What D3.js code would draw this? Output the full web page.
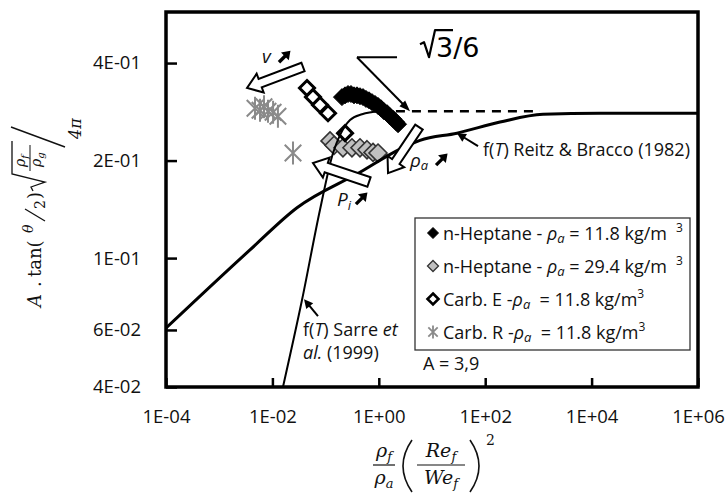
<!DOCTYPE html>
<html>
<head>
<meta charset="utf-8">
<script src="https://cdn.jsdelivr.net/npm/d3@7"></script>
<style>
  body { margin: 0; background: #fff; }
  svg { display: block; }
  text { white-space: pre; }
</style>
</head>
<body>
<svg id="chart" width="726" height="493"></svg>
<script>
// ---- axis ticks ----
const xTickValues = [1e-4, 1e-2, 1, 1e2, 1e4, 1e6];
const yTickValues = [0.04, 0.06, 0.1, 0.2, 0.4];

// ---- measurements: x = (rho_f/rho_a)(Re_f/We_f)^2, y = A tan(theta/2) sqrt(rho_f/rho_g) / 4pi ----
// n-Heptane, rho_a = 11.8 kg/m3
const hepLowX = [0.203, 0.232, 0.264, 0.300, 0.342, 0.389, 0.443, 0.505, 0.574, 0.654,
                 0.745, 0.849, 0.966, 1.10, 1.25, 1.43, 1.62, 1.85, 2.11, 2.30];
const hepLowY = [0.314, 0.318, 0.321, 0.321, 0.318, 0.318, 0.316, 0.314, 0.310, 0.307,
                 0.303, 0.299, 0.295, 0.290, 0.284, 0.280, 0.274, 0.269, 0.263, 0.259];
// n-Heptane, rho_a = 29.4 kg/m3
const hepHighX = [0.121, 0.144, 0.212, 0.313, 0.443, 0.600, 0.778, 0.966];
const hepHighY = [0.230, 0.223, 0.219, 0.219, 0.219, 0.216, 0.212, 0.211];
// Carb. E, rho_a = 11.8 kg/m3
const carbEX = [0.0447, 0.0579, 0.0785, 0.111, 0.232];
const carbEY = [0.335, 0.314, 0.297, 0.280, 0.243];
// Carb. R, rho_a = 11.8 kg/m3
const carbRX = [0.00471, 0.00585, 0.00695, 0.00826, 0.0103, 0.0127, 0.0244];
const carbRY = [0.290, 0.286, 0.293, 0.284, 0.282, 0.274, 0.211];

// ---- correlations f(T) ----
const reitzX = [1e-4, 0.00379, 0.0290, 0.443, 2.50, 5.95, 29.5, 190, 1220, 14400, 1e6];
const reitzY = [0.0608, 0.106, 0.143, 0.184, 0.217, 0.231, 0.243, 0.263, 0.278, 0.280, 0.280];
const sarreX = [0.0158, 0.0360, 0.0785, 0.138, 0.187, 0.288, 0.483, 1.05, 1070];
const sarreY = [0.040, 0.0742, 0.141, 0.211, 0.240, 0.267, 0.278, 0.284, 0.284];
const sarreDashFrom = 1.05;   // beyond this the plateau is drawn dashed

// ---- annotation anchors, in data units ----
const rootNote = { start: [2.20, 0.417], corner: [0.389, 0.417], tip: [3.86, 0.284], text: [5.95, 0.417] };
const vArrow = { tail: [0.0376, 0.389], tip: [0.00334, 0.335], label: [0.00638, 0.400], mark: [0.0165, 0.417] };
const rhoArrow = { tail: [5.70, 0.2537], tip: [1.49, 0.1829], label: [3.86, 0.191], mark: [14.8, 0.2007] };
const piArrow = { tail: [0.654, 0.1717], tip: [0.0579, 0.1964], label: [0.1637, 0.1447], mark: [0.462, 0.1521] };
const reitzNote = { tail: [73.3, 0.2216], tip: [29.5, 0.2430], text: [91, 0.2064] };
const sarreNote = { tail: [0.0719, 0.0662], tip: [0.0393, 0.0747], line1: [0.0376, 0.0574], line2: [0.0376, 0.0488] };

const FONT = "'Open Sans', 'DejaVu Sans', sans-serif";
const SERIF = "'DejaVu Serif', 'Liberation Serif', serif";

const svg = d3.select('#chart');
svg.append('rect').attr('width', 726).attr('height', 493).attr('fill', '#fff');

const plotL = 166, plotR = 698, plotT = 12, plotB = 387;
const x = d3.scaleLog().domain([1e-4, 1e6]).range([plotL, plotR]);
const y = d3.scaleLog().domain([0.04, 0.575]).range([plotB, plotT]);
const P = d => [x(d[0]), y(d[1])];

svg.append('clipPath').attr('id', 'plot-clip')
  .append('rect').attr('x', plotL).attr('y', plotT).attr('width', plotR - plotL).attr('height', plotB - plotT);

// ---- axes ----
function sci(d) {
  const e = Math.floor(Math.log10(d) + 1e-9);
  const m = Math.round(d / Math.pow(10, e));
  return m + 'E' + (e < 0 ? '-' : '+') + String(Math.abs(e)).padStart(2, '0');
}
const gx = svg.append('g').attr('transform', `translate(0,${plotB})`)
  .call(d3.axisBottom(x).tickValues(xTickValues).tickSize(-9).tickPadding(23).tickFormat(sci));
const gy = svg.append('g').attr('transform', `translate(${plotL},0)`)
  .call(d3.axisLeft(y).tickValues(yTickValues).tickSize(-11).tickPadding(25).tickFormat(sci));
[gx, gy].forEach(g => {
  g.select('.domain').remove();
  g.selectAll('.tick line').attr('stroke', '#000').attr('stroke-width', 2.5);
  g.selectAll('.tick text').attr('font-family', FONT).attr('font-size', 18.5).attr('fill', '#111');
});

const plot = svg.append('g').attr('clip-path', 'url(#plot-clip)');

// ---- markers ----
const diamond = r => `M0,${-r}L${r},0L0,${r}L${-r},0Z`;
const asterisk = r => {
  const k = r * 0.72;
  return `M${-k},${-k}L${k},${k}M${-k},${k}L${k},${-k}M0,${-r}L0,${r}`;
};
const zip = (a, b) => a.map((v, i) => [v, b[i]]);

plot.append('g').selectAll('path').data(zip(hepLowX, hepLowY)).join('path')
  .attr('transform', d => `translate(${P(d)})`).attr('d', diamond(8.5))
  .attr('fill', '#000').attr('stroke', '#000').attr('stroke-width', 1);

plot.append('g').selectAll('path').data(zip(hepHighX, hepHighY)).join('path')
  .attr('transform', d => `translate(${P(d)})`).attr('d', diamond(9))
  .attr('fill', '#c0c0c0').attr('stroke', '#333').attr('stroke-width', 1.6);

plot.append('g').selectAll('path').data(zip(carbEX, carbEY)).join('path')
  .attr('transform', d => `translate(${P(d)})`).attr('d', diamond(7.5))
  .attr('fill', '#fff').attr('stroke', '#000').attr('stroke-width', 3);

plot.append('g').selectAll('path').data(zip(carbRX, carbRY)).join('path')
  .attr('transform', d => `translate(${P(d)})`).attr('d', asterisk(11.5))
  .attr('fill', 'none').attr('stroke', '#8a8a8a').attr('stroke-width', 2);

// ---- hollow block arrows ----
function blockArrow(g, tail, tip, bw = 4.5, hw = 10, hl = 14) {
  const [x0, y0] = P(tail), [x1, y1] = P(tip);
  const L = Math.hypot(x1 - x0, y1 - y0);
  const ux = (x1 - x0) / L, uy = (y1 - y0) / L, nx = -uy, ny = ux;
  const bx = x1 - ux * hl, by = y1 - uy * hl;
  const pts = [
    [x0 + nx * bw, y0 + ny * bw], [bx + nx * bw, by + ny * bw], [bx + nx * hw, by + ny * hw],
    [x1, y1],
    [bx - nx * hw, by - ny * hw], [bx - nx * bw, by - ny * bw], [x0 - nx * bw, y0 - ny * bw]
  ];
  g.append('path').attr('d', 'M' + pts.join('L') + 'Z')
    .attr('fill', '#fff').attr('stroke', '#000').attr('stroke-width', 2).attr('stroke-linejoin', 'miter');
}
function boldArrow(g, at) {
  const [cx, cy] = P(at);
  const a = g.append('g').attr('transform', `translate(${cx},${cy})`);
  a.append('line').attr('x1', -5).attr('y1', 5).attr('x2', 1.5).attr('y2', -1.5)
    .attr('stroke', '#000').attr('stroke-width', 3.4);
  a.append('path').attr('d', 'M6.5,-6.5L4.8,3L-3,-4.8Z').attr('fill', '#000');
}
const ann = svg.append('g');
blockArrow(ann, vArrow.tail, vArrow.tip);
blockArrow(ann, rhoArrow.tail, rhoArrow.tip);
blockArrow(ann, piArrow.tail, piArrow.tip, 5, 10.5, 14);

// ---- correlation curves ----
const line = d3.line().x(d => x(d[0])).y(d => y(d[1])).curve(d3.curveMonotoneX);
plot.append('path').datum(zip(reitzX, reitzY)).attr('d', line)
  .attr('fill', 'none').attr('stroke', '#000').attr('stroke-width', 3);
const sarre = zip(sarreX, sarreY);
plot.append('path').datum(sarre.filter(d => d[0] <= sarreDashFrom)).attr('d', line)
  .attr('fill', 'none').attr('stroke', '#000').attr('stroke-width', 2);
plot.append('path').datum(sarre.filter(d => d[0] >= sarreDashFrom)).attr('d', line)
  .attr('fill', 'none').attr('stroke', '#000').attr('stroke-width', 2.5).attr('stroke-dasharray', '9,7');

// ---- frame ----
svg.append('rect').attr('x', plotL).attr('y', plotT).attr('width', plotR - plotL).attr('height', plotB - plotT)
  .attr('fill', 'none').attr('stroke', '#000').attr('stroke-width', 3.5);

// ---- thin pointer arrows ----
function pointer(g, from, to, w = 2, hl = 9, hh = 4.5) {
  const [x0, y0] = P(from), [x1, y1] = P(to);
  const L = Math.hypot(x1 - x0, y1 - y0);
  const ux = (x1 - x0) / L, uy = (y1 - y0) / L;
  g.append('line').attr('x1', x0).attr('y1', y0).attr('x2', x1 - ux * hl * 0.6).attr('y2', y1 - uy * hl * 0.6)
    .attr('stroke', '#000').attr('stroke-width', w);
  const bx = x1 - ux * hl, by = y1 - uy * hl;
  g.append('path').attr('d', `M${x1},${y1}L${bx - uy * hh},${by + ux * hh}L${bx + uy * hh},${by - ux * hh}Z`)
    .attr('fill', '#000');
}
pointer(ann, reitzNote.tail, reitzNote.tip);
pointer(ann, sarreNote.tail, sarreNote.tip);

// sqrt(3)/6 call-out
{
  const [sx, sy] = P(rootNote.start), [cx, cy] = P(rootNote.corner);
  ann.append('path').attr('d', `M${sx},${sy}L${cx},${cy}`).attr('stroke', '#000').attr('stroke-width', 2).attr('fill', 'none');
  pointer(ann, rootNote.corner, rootNote.tip, 2, 11, 4);
  const [rx, ry] = P(rootNote.text);
  const g = ann.append('g').attr('transform', `translate(${rx},${ry})`);
  g.append('path').attr('d', 'M0,-13L4,-15L9,0L15,-27L33,-27')
    .attr('fill', 'none').attr('stroke', '#000').attr('stroke-width', 2.2).attr('stroke-linejoin', 'round');
  g.append('text').attr('x', 16).attr('y', 0).attr('font-family', "'DejaVu Sans', sans-serif")
    .attr('font-size', 27).attr('fill', '#000').text('3/6');
}

// ---- annotation text ----
function rich(g, at, parts, size = 18) {
  const [tx, ty] = P(at);
  const t = g.append('text').attr('x', tx).attr('y', ty).attr('font-family', FONT)
    .attr('font-size', size).attr('fill', '#111');
  parts.forEach(p => {
    const s = t.append('tspan').text(p.t);
    if (p.i) s.attr('font-style', 'italic');
    if (p.fs) s.attr('font-size', p.fs);
    if (p.dy) s.attr('dy', p.dy);
    if (p.dx) s.attr('dx', p.dx);
  });
  return t;
}
rich(ann, reitzNote.text, [{ t: 'f(' }, { t: 'T', i: 1 }, { t: ') Reitz & Bracco (1982)' }]);
rich(ann, sarreNote.line1, [{ t: 'f(' }, { t: 'T', i: 1 }, { t: ') Sarre ' }, { t: 'et', i: 1 }]);
rich(ann, sarreNote.line2, [{ t: 'al.', i: 1 }, { t: ' (1999)' }]);
rich(ann, vArrow.label, [{ t: 'v', i: 1 }], 19);
rich(ann, rhoArrow.label, [{ t: 'ρ', i: 1 }, { t: 'a', i: 1, fs: 13, dy: 3 }], 19);
rich(ann, piArrow.label, [{ t: 'P', i: 1 }, { t: 'i', i: 1, fs: 13, dy: 4 }], 19);
boldArrow(ann, vArrow.mark);
boldArrow(ann, rhoArrow.mark);
boldArrow(ann, piArrow.mark);

// ---- legend ----
const legend = svg.append('g').attr('transform', 'translate(415,218)');
legend.append('rect').attr('width', 275).attr('height', 132)
  .attr('fill', '#fff').attr('stroke', '#333').attr('stroke-width', 1.3);
const legendItems = [
  { name: 'n-Heptane - ', rho: '11.8', fill: '#000', stroke: '#000', sw: 1, shape: 'd', spaced: true },
  { name: 'n-Heptane - ', rho: '29.4', fill: '#c0c0c0', stroke: '#333', sw: 1.3, shape: 'd', spaced: true },
  { name: 'Carb. E -', rho: '11.8', fill: '#fff', stroke: '#000', sw: 2.6, shape: 'd', spaced: false },
  { name: 'Carb. R -', rho: '11.8', fill: 'none', stroke: '#8a8a8a', sw: 1.8, shape: 'a', spaced: false }
];
legendItems.forEach((it, i) => {
  const cy = 15 + i * 33;
  legend.append('path').attr('transform', `translate(18,${cy})`)
    .attr('d', it.shape === 'd' ? diamond(5.5) : asterisk(6.5))
    .attr('fill', it.fill).attr('stroke', it.stroke).attr('stroke-width', it.sw);
  const t = legend.append('text').attr('x', 28).attr('y', cy + 6.5)
    .attr('font-family', FONT).attr('font-size', 18).attr('fill', '#111');
  t.append('tspan').text(it.name);
  t.append('tspan').attr('font-style', 'italic').text('ρ');
  t.append('tspan').attr('font-style', 'italic').attr('font-size', 13).attr('dy', 3).text('a');
  t.append('tspan').attr('dy', -3).text(it.spaced ? ' = ' + it.rho + ' kg/m' : '  = ' + it.rho + ' kg/m');
  t.append('tspan').attr('font-size', 12).attr('dy', -8).attr('dx', it.spaced ? 9 : 0).text('3');
});
svg.append('text').attr('x', 423).attr('y', 370).attr('font-family', FONT)
  .attr('font-size', 18).attr('fill', '#111').text('A = 3,9');

// ---- x-axis title: (rho_f / rho_a) (Re_f / We_f)^2 ----
{
  const g = svg.append('g').attr('font-family', SERIF).attr('font-style', 'italic').attr('fill', '#111');
  const frac = (cx, num, numSub, den, denSub, barW) => {
    const a = g.append('text').attr('x', cx).attr('y', 457).attr('text-anchor', 'middle').attr('font-size', 19);
    a.append('tspan').text(num);
    a.append('tspan').attr('font-size', 13).attr('dy', 4).text(numSub);
    const b = g.append('text').attr('x', cx).attr('y', 484).attr('text-anchor', 'middle').attr('font-size', 19);
    b.append('tspan').text(den);
    b.append('tspan').attr('font-size', 13).attr('dy', 4).text(denSub);
    g.append('line').attr('x1', cx - barW / 2).attr('x2', cx + barW / 2).attr('y1', 465).attr('y2', 465)
      .attr('stroke', '#111').attr('stroke-width', 1.2);
  };
  frac(384, 'ρ', 'f', 'ρ', 'a', 22);
  frac(441, 'Re', 'f', 'We', 'f', 48);
  g.append('path').attr('d', 'M412,440Q394,466 412,492').attr('fill', 'none').attr('stroke', '#111').attr('stroke-width', 1.6);
  g.append('path').attr('d', 'M470,440Q488,466 470,492').attr('fill', 'none').attr('stroke', '#111').attr('stroke-width', 1.6);
  g.append('text').attr('x', 486).attr('y', 445).attr('font-size', 14).attr('font-style', 'normal').text('2');
}

// ---- y-axis title: A . tan(theta/2) sqrt(rho_f/rho_g) / 4pi ----
{
  const g = svg.append('g').attr('transform', 'translate(41,307) rotate(-90)')
    .attr('font-family', SERIF).attr('fill', '#111');
  const put = (u, v, txt, size, italic) => g.append('text').attr('x', u).attr('y', v)
    .attr('font-size', size).attr('font-style', italic ? 'italic' : 'normal').text(txt);
  put(0, 0, 'A', 18, true);
  put(20, 0, '.', 18, false);
  put(30, 0, 'tan(', 18, false);
  put(74, -8, 'θ', 14, true);
  g.append('line').attr('x1', 86).attr('y1', 4).attr('x2', 98).attr('y2', -16).attr('stroke', '#111').attr('stroke-width', 1.3);
  put(98, 4, '2', 14, false);
  put(108, 0, ')', 18, false);
  g.append('path').attr('d', 'M116,-8L120,-10L125,4L133,-29L166,-29')
    .attr('fill', 'none').attr('stroke', '#111').attr('stroke-width', 1.3);
  const num = put(140, -16, 'ρ', 14, true); num.append('tspan').attr('font-size', 10).attr('dy', 3).text('f');
  g.append('line').attr('x1', 136).attr('x2', 162).attr('y1', -11).attr('y2', -11).attr('stroke', '#111').attr('stroke-width', 1);
  const den = put(140, 0, 'ρ', 14, true); den.append('tspan').attr('font-size', 10).attr('dy', 3).text('g');
  g.append('line').attr('x1', 160).attr('y1', 24).attr('x2', 180).attr('y2', -30).attr('stroke', '#111').attr('stroke-width', 1.4);
  put(168, 40, '4π', 16, true);
}
</script>
</body>
</html>
